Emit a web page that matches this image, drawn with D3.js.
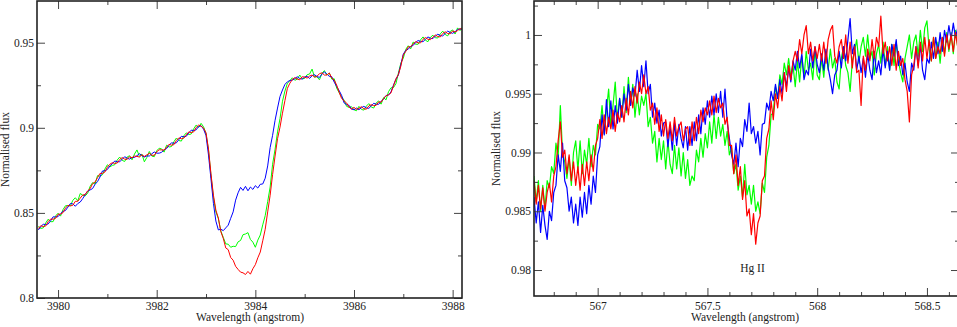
<!DOCTYPE html>
<html>
<head>
<meta charset="utf-8">
<script src="https://cdn.jsdelivr.net/npm/d3@7"></script>
<style>
  body { margin: 0; background: #fff; }
  svg { display: block; }
  text, .tick text { font-family: "Liberation Serif", "DejaVu Serif", serif; font-size: 11.5px; fill: #222; }
  .tick line { stroke: #444; }
</style>
</head>
<body>
<script>
// Left panel wavelengths (angstrom)
const leftWave = [
  3979.6,3979.65,3979.7,3979.75,3979.8,3979.85,3979.9,3979.95,3980,3980.05,
  3980.1,3980.15,3980.2,3980.25,3980.3,3980.35,3980.4,3980.45,3980.5,3980.55,
  3980.6,3980.65,3980.7,3980.75,3980.8,3980.85,3980.9,3980.95,3981,3981.05,
  3981.1,3981.15,3981.2,3981.25,3981.3,3981.35,3981.4,3981.45,3981.5,3981.55,
  3981.6,3981.65,3981.7,3981.75,3981.8,3981.85,3981.9,3981.95,3982,3982.05,
  3982.1,3982.15,3982.2,3982.25,3982.3,3982.35,3982.4,3982.45,3982.5,3982.55,
  3982.6,3982.65,3982.7,3982.75,3982.8,3982.85,3982.9,3982.95,3983,3983.05,
  3983.1,3983.15,3983.2,3983.25,3983.3,3983.35,3983.4,3983.45,3983.5,3983.55,
  3983.6,3983.65,3983.7,3983.75,3983.8,3983.85,3983.9,3983.95,3984,3984.05,
  3984.1,3984.15,3984.2,3984.25,3984.3,3984.35,3984.4,3984.45,3984.5,3984.55,
  3984.6,3984.65,3984.7,3984.75,3984.8,3984.85,3984.9,3984.95,3985,3985.05,
  3985.1,3985.15,3985.2,3985.25,3985.3,3985.35,3985.4,3985.45,3985.5,3985.55,
  3985.6,3985.65,3985.7,3985.75,3985.8,3985.85,3985.9,3985.95,3986,3986.05,
  3986.1,3986.15,3986.2,3986.25,3986.3,3986.35,3986.4,3986.45,3986.5,3986.55,
  3986.6,3986.65,3986.7,3986.75,3986.8,3986.85,3986.9,3986.95,3987,3987.05,
  3987.1,3987.15,3987.2,3987.25,3987.3,3987.35,3987.4,3987.45,3987.5,3987.55,
  3987.6,3987.65,3987.7,3987.75,3987.8,3987.85,3987.9,3987.95,3988,3988.05,
  3988.1,3988.15,3988.2
];
const leftBlue = [
  0.8400,0.8419,0.8434,0.8431,0.8435,0.8454,0.8477,0.8476,0.8478,0.8495,
  0.8509,0.8514,0.8534,0.8555,0.8553,0.8539,0.8555,0.8564,0.8584,0.8607,
  0.8628,0.8635,0.8643,0.8668,0.8684,0.8711,0.8746,0.8748,0.8755,0.8776,
  0.8789,0.8805,0.8801,0.8800,0.8815,0.8830,0.8822,0.8816,0.8826,0.8826,
  0.8836,0.8848,0.8837,0.8828,0.8835,0.8834,0.8847,0.8858,0.8851,0.8851,
  0.8856,0.8871,0.8878,0.8897,0.8912,0.8909,0.8912,0.8931,0.8950,0.8947,
  0.8950,0.8970,0.8986,0.8984,0.8988,0.9008,0.9012,0.8992,0.8955,0.8840,
  0.8700,0.8556,0.8452,0.8400,0.8404,0.8396,0.8412,0.8428,0.8468,0.8506,
  0.8575,0.8618,0.8650,0.8632,0.8656,0.8630,0.8652,0.8638,0.8660,0.8646,
  0.8668,0.8670,0.8704,0.8776,0.8884,0.8956,0.9044,0.9116,0.9184,0.9222,
  0.9255,0.9270,0.9278,0.9280,0.9289,0.9300,0.9290,0.9286,0.9298,0.9302,
  0.9290,0.9306,0.9312,0.9301,0.9296,0.9315,0.9328,0.9316,0.9302,0.9300,
  0.9268,0.9242,0.9218,0.9190,0.9146,0.9136,0.9132,0.9110,0.9106,0.9116,
  0.9106,0.9118,0.9126,0.9117,0.9114,0.9128,0.9144,0.9138,0.9138,0.9155,
  0.9170,0.9190,0.9192,0.9211,0.9250,0.9285,0.9311,0.9372,0.9433,0.9455,
  0.9462,0.9478,0.9484,0.9501,0.9513,0.9507,0.9506,0.9520,0.9534,0.9526,
  0.9524,0.9539,0.9550,0.9542,0.9540,0.9554,0.9568,0.9560,0.9555,0.9565,
  0.9577,0.9581,0.9578
];
const leftGreen = [
  0.8420,0.8409,0.8412,0.8441,0.8463,0.8448,0.8449,0.8482,0.8498,0.8481,
  0.8519,0.8542,0.8543,0.8542,0.8574,0.8589,0.8571,0.8614,0.8604,0.8600,
  0.8615,0.8656,0.8678,0.8669,0.8719,0.8716,0.8724,0.8758,0.8783,0.8770,
  0.8779,0.8783,0.8811,0.8828,0.8809,0.8802,0.8828,0.8836,0.8812,0.8846,
  0.8870,0.8832,0.8846,0.8800,0.8826,0.8861,0.8834,0.8830,0.8865,0.8880,
  0.8876,0.8857,0.8898,0.8887,0.8890,0.8919,0.8940,0.8925,0.8922,0.8953,
  0.8970,0.8960,0.8964,0.8994,0.9016,0.9002,0.9026,0.9006,0.8965,0.8870,
  0.8720,0.8592,0.8506,0.8466,0.8394,0.8356,0.8318,0.8316,0.8298,0.8304,
  0.8302,0.8330,0.8338,0.8372,0.8376,0.8384,0.8344,0.8328,0.8298,0.8340,
  0.8370,0.8430,0.8484,0.8566,0.8652,0.8786,0.8874,0.8976,0.9054,0.9156,
  0.9216,0.9262,0.9276,0.9294,0.9279,0.9286,0.9310,0.9288,0.9290,0.9312,
  0.9316,0.9345,0.9298,0.9300,0.9282,0.9320,0.9336,0.9310,0.9322,0.9286,
  0.9288,0.9232,0.9206,0.9182,0.9162,0.9126,0.9120,0.9124,0.9106,0.9100,
  0.9126,0.9108,0.9104,0.9127,0.9142,0.9122,0.9116,0.9146,0.9158,0.9139,
  0.9178,0.9164,0.9212,0.9235,0.9236,0.9259,0.9321,0.9380,0.9409,0.9461,
  0.9482,0.9464,0.9504,0.9491,0.9491,0.9517,0.9534,0.9514,0.9506,0.9532,
  0.9544,0.9529,0.9528,0.9552,0.9568,0.9548,0.9540,0.9566,0.9575,0.9551,
  0.9587,0.9571,0.9592
];
const leftRed = [
  0.8408,0.8425,0.8420,0.8423,0.8449,0.8464,0.8463,0.8468,0.8492,0.8493,
  0.8501,0.8528,0.8544,0.8541,0.8545,0.8568,0.8568,0.8587,0.8605,0.8608,
  0.8629,0.8642,0.8672,0.8681,0.8707,0.8732,0.8732,0.8740,0.8769,0.8786,
  0.8795,0.8791,0.8793,0.8814,0.8825,0.8816,0.8814,0.8830,0.8824,0.8834,
  0.8832,0.8828,0.8841,0.8832,0.8841,0.8850,0.8839,0.8838,0.8859,0.8871,
  0.8870,0.8869,0.8886,0.8903,0.8898,0.8901,0.8926,0.8941,0.8936,0.8939,
  0.8958,0.8976,0.8972,0.8976,0.9002,0.9016,0.9010,0.8998,0.8970,0.8875,
  0.8730,0.8604,0.8516,0.8470,0.8390,0.8350,0.8294,0.8284,0.8238,0.8222,
  0.8186,0.8168,0.8152,0.8148,0.8138,0.8156,0.8140,0.8172,0.8196,0.8236,
  0.8270,0.8336,0.8404,0.8506,0.8604,0.8726,0.8834,0.8936,0.9004,0.9086,
  0.9160,0.9232,0.9262,0.9284,0.9295,0.9286,0.9282,0.9300,0.9298,0.9292,
  0.9304,0.9310,0.9298,0.9303,0.9318,0.9323,0.9310,0.9310,0.9322,0.9292,
  0.9280,0.9250,0.9208,0.9172,0.9158,0.9146,0.9122,0.9110,0.9120,0.9108,
  0.9114,0.9124,0.9112,0.9109,0.9128,0.9136,0.9130,0.9132,0.9152,0.9151,
  0.9172,0.9188,0.9194,0.9205,0.9246,0.9287,0.9313,0.9362,0.9429,0.9449,
  0.9476,0.9476,0.9492,0.9507,0.9499,0.9499,0.9520,0.9530,0.9520,0.9518,
  0.9532,0.9545,0.9536,0.9534,0.9554,0.9564,0.9554,0.9552,0.9569,0.9563,
  0.9571,0.9583,0.9577
];

// Right panel wavelengths, as labelled on the axis
const rightWave = [
  566.71,566.72,566.73,566.74,566.75,566.76,566.77,566.78,566.79,566.8,
  566.81,566.82,566.83,566.84,566.85,566.86,566.87,566.88,566.89,566.9,
  566.91,566.92,566.93,566.94,566.95,566.96,566.97,566.98,566.99,567,
  567.01,567.02,567.03,567.04,567.05,567.06,567.07,567.08,567.09,567.1,
  567.11,567.12,567.13,567.14,567.15,567.16,567.17,567.18,567.19,567.2,
  567.21,567.22,567.23,567.24,567.25,567.26,567.27,567.28,567.29,567.3,
  567.31,567.32,567.33,567.34,567.35,567.36,567.37,567.38,567.39,567.4,
  567.41,567.42,567.43,567.44,567.45,567.46,567.47,567.48,567.49,567.5,
  567.51,567.52,567.53,567.54,567.55,567.56,567.57,567.58,567.59,567.6,
  567.61,567.62,567.63,567.64,567.65,567.66,567.67,567.68,567.69,567.7,
  567.71,567.72,567.73,567.74,567.75,567.76,567.77,567.78,567.79,567.8,
  567.81,567.82,567.83,567.84,567.85,567.86,567.87,567.88,567.89,567.9,
  567.91,567.92,567.93,567.94,567.95,567.96,567.97,567.98,567.99,568,
  568.01,568.02,568.03,568.04,568.05,568.06,568.07,568.08,568.09,568.1,
  568.11,568.12,568.13,568.14,568.15,568.16,568.17,568.18,568.19,568.2,
  568.21,568.22,568.23,568.24,568.25,568.26,568.27,568.28,568.29,568.3,
  568.31,568.32,568.33,568.34,568.35,568.36,568.37,568.38,568.39,568.4,
  568.41,568.42,568.43,568.44,568.45,568.46,568.47,568.48,568.49,568.5,
  568.51,568.52,568.53,568.54,568.55,568.56,568.57,568.58,568.59,568.6,
  568.61,568.62,568.63,568.64
];
const rightBlue = [
  0.9862,0.9840,0.9858,0.9832,0.9855,0.9838,0.9826,0.9850,0.9842,0.9866,
  0.9872,0.9898,0.9884,0.9908,0.9876,0.9870,0.9850,0.9862,0.9840,0.9856,
  0.9838,0.9862,0.9845,0.9866,0.9848,0.9872,0.9856,0.9880,0.9866,0.9898,
  0.9905,0.9932,0.9915,0.9945,0.9922,0.9944,0.9920,0.9940,0.9925,0.9946,
  0.9930,0.9950,0.9936,0.9958,0.9940,0.9955,0.9948,0.9970,0.9952,0.9974,
  0.9956,0.9978,0.9950,0.9958,0.9930,0.9942,0.9925,0.9936,0.9914,0.9925,
  0.9926,0.9905,0.9922,0.9902,0.9925,0.9906,0.9924,0.9912,0.9904,0.9922,
  0.9902,0.9922,0.9906,0.9926,0.9910,0.9932,0.9916,0.9938,0.9924,0.9944,
  0.9930,0.9948,0.9932,0.9950,0.9934,0.9952,0.9930,0.9954,0.9926,0.9912,
  0.9898,0.9890,0.9908,0.9888,0.9912,0.9905,0.9928,0.9918,0.9942,0.9916,
  0.9922,0.9908,0.9918,0.9898,0.9924,0.9925,0.9942,0.9936,0.9952,0.9944,
  0.9958,0.9946,0.9962,0.9950,0.9968,0.9956,0.9972,0.9960,0.9978,0.9970,
  0.9986,0.9972,0.9984,0.9962,0.9970,0.9966,0.9988,0.9972,0.9990,0.9975,
  0.9968,0.9984,0.9970,0.9988,0.9972,0.9962,0.9950,0.9966,0.9970,0.9986,
  0.9972,0.9990,0.9978,0.9996,1.0014,0.9984,0.9992,0.9970,0.9982,0.9968,
  0.9980,0.9964,0.9984,0.9970,0.9962,0.9986,0.9968,0.9978,0.9966,0.9988,
  0.9972,0.9986,0.9970,0.9992,0.9982,0.9996,0.9974,0.9982,0.9966,0.9976,
  0.9960,0.9952,0.9976,0.9970,0.9990,0.9974,0.9992,0.9970,0.9962,0.9980,
  0.9976,0.9994,0.9980,0.9998,0.9984,1.0002,0.9986,1.0004,0.9994,1.0008,
  0.9996,1.0010,0.9998,1.0006
];
const rightGreen = [
  0.9880,0.9858,0.9876,0.9850,0.9872,0.9852,0.9876,0.9870,0.9888,0.9882,
  0.9908,0.9896,0.9940,0.9900,0.9892,0.9878,0.9896,0.9872,0.9900,0.9910,
  0.9885,0.9910,0.9882,0.9902,0.9890,0.9912,0.9888,0.9906,0.9898,0.9924,
  0.9920,0.9940,0.9916,0.9936,0.9954,0.9922,0.9940,0.9960,0.9928,0.9946,
  0.9930,0.9956,0.9934,0.9964,0.9940,0.9958,0.9930,0.9950,0.9932,0.9948,
  0.9940,0.9950,0.9922,0.9930,0.9908,0.9918,0.9892,0.9912,0.9894,0.9910,
  0.9886,0.9910,0.9890,0.9882,0.9906,0.9886,0.9904,0.9880,0.9900,0.9878,
  0.9894,0.9872,0.9880,0.9876,0.9902,0.9892,0.9912,0.9896,0.9916,0.9904,
  0.9926,0.9908,0.9932,0.9912,0.9930,0.9914,0.9924,0.9906,0.9918,0.9898,
  0.9904,0.9882,0.9890,0.9868,0.9880,0.9862,0.9890,0.9864,0.9872,0.9856,
  0.9872,0.9850,0.9858,0.9848,0.9874,0.9866,0.9896,0.9906,0.9932,0.9934,
  0.9956,0.9946,0.9966,0.9958,0.9976,0.9966,0.9980,0.9964,0.9974,0.9956,
  0.9978,0.9960,0.9982,0.9964,0.9986,0.9970,0.9976,0.9962,0.9988,0.9966,
  0.9962,0.9980,0.9964,0.9986,0.9970,0.9988,0.9972,0.9980,0.9960,0.9954,
  0.9980,0.9990,0.9974,0.9968,0.9952,0.9978,0.9986,0.9996,0.9976,0.9990,
  0.9998,0.9982,1.0000,0.9980,0.9986,0.9966,0.9984,0.9992,0.9976,0.9994,
  0.9974,0.9990,0.9970,0.9992,0.9974,0.9994,0.9978,0.9968,0.9960,0.9980,
  0.9990,1.0000,0.9980,0.9994,1.0000,0.9982,1.0004,0.9986,1.0006,1.0012,
  0.9988,0.9978,0.9998,0.9980,0.9994,0.9976,0.9998,0.9984,1.0002,0.9986,
  1.0002,0.9984,1.0004,0.9990
];
const rightRed = [
  0.9876,0.9856,0.9872,0.9852,0.9870,0.9850,0.9866,0.9874,0.9858,0.9880,
  0.9888,0.9910,0.9926,0.9896,0.9902,0.9882,0.9898,0.9876,0.9892,0.9872,
  0.9888,0.9868,0.9890,0.9872,0.9892,0.9876,0.9898,0.9884,0.9906,0.9912,
  0.9928,0.9912,0.9932,0.9916,0.9930,0.9920,0.9936,0.9918,0.9934,0.9926,
  0.9940,0.9926,0.9946,0.9932,0.9952,0.9938,0.9956,0.9942,0.9960,0.9950,
  0.9966,0.9950,0.9956,0.9936,0.9942,0.9924,0.9938,0.9918,0.9932,0.9914,
  0.9928,0.9912,0.9926,0.9910,0.9930,0.9914,0.9922,0.9926,0.9910,0.9920,
  0.9922,0.9906,0.9926,0.9910,0.9930,0.9916,0.9936,0.9926,0.9938,0.9932,
  0.9944,0.9932,0.9948,0.9934,0.9946,0.9938,0.9942,0.9924,0.9930,0.9906,
  0.9906,0.9882,0.9898,0.9872,0.9888,0.9860,0.9876,0.9846,0.9852,0.9830,
  0.9848,0.9822,0.9840,0.9846,0.9876,0.9880,0.9912,0.9920,0.9944,0.9928,
  0.9950,0.9938,0.9956,0.9944,0.9968,0.9952,0.9974,0.9962,0.9978,0.9986,
  0.9978,0.9996,0.9984,1.0000,1.0008,0.9984,0.9994,0.9978,0.9990,0.9980,
  0.9992,0.9978,0.9994,0.9976,0.9996,1.0004,1.0008,0.9982,0.9976,0.9990,
  0.9996,0.9980,1.0000,0.9976,0.9994,0.9972,0.9990,0.9968,0.9970,0.9940,
  0.9982,0.9970,0.9988,0.9978,0.9996,0.9980,0.9998,0.9990,1.0016,0.9984,
  0.9994,0.9978,0.9990,0.9974,0.9992,0.9970,0.9986,0.9974,0.9980,0.9962,
  0.9952,0.9926,0.9966,0.9974,0.9990,0.9972,0.9994,0.9978,0.9998,0.9980,
  0.9996,0.9978,0.9998,0.9980,0.9990,0.9984,0.9998,0.9982,1.0000,0.9988,
  1.0000,0.9986,1.0002,0.9990
];

// tick values
const leftXTicks = [3980, 3982, 3984, 3986, 3988];
const leftXMinor = [3981, 3983, 3985, 3987];
const leftYTicks = [0.8, 0.85, 0.9, 0.95];
const leftYMinor = [0.825, 0.875, 0.925];
const rightXTicks = [567, 567.5, 568, 568.5];
const rightXMinor = [566.8, 566.9, 567.1, 567.2, 567.3, 567.4, 567.6, 567.7, 567.8, 567.9, 568.1, 568.2, 568.3, 568.4, 568.6];
const rightYTicks = [0.98, 0.985, 0.99, 0.995, 1];
const rightYMinor = [0.9825, 0.9875, 0.9925, 0.9975, 1.0025];

const width = 957, height = 327;

const svg = d3.select('body').append('svg')
    .attr('width', width)
    .attr('height', height);

function drawPanel(p) {
    const x = d3.scaleLinear().domain(p.xDomain).range([p.left, p.right]);
    const y = d3.scaleLinear().domain(p.yDomain).range([p.bottom, p.top]);
    const g = svg.append('g');

    g.append('clipPath').attr('id', p.id)
        .append('rect')
        .attr('x', p.left).attr('y', p.top)
        .attr('width', p.right - p.left).attr('height', p.bottom - p.top);

    const line = d3.line()
        .x((d, i) => x(p.wave[i]))
        .y(d => y(d));

    p.series.forEach(s => {
        g.append('path')
            .datum(s.values)
            .attr('d', line)
            .attr('fill', 'none')
            .attr('stroke', s.color)
            .attr('stroke-width', p.lineWidth)
            .attr('stroke-linejoin', 'round')
            .attr('clip-path', `url(#${p.id})`);
    });

    // ticks point inwards on all four sides
    function axis(fn, scale, ticks, size, labels, pad, transform) {
        g.append('g')
            .attr('transform', transform)
            .call(fn(scale).tickValues(ticks).tickSize(-size).tickPadding(pad)
                .tickFormat(labels ? d => String(d) : ''))
            .call(a => a.select('.domain').remove())
            .attr('font-family', null)
            .attr('font-size', null);
    }
    axis(d3.axisBottom, x, p.xTicks, 8, true, p.xPad, `translate(0,${p.bottom})`);
    axis(d3.axisBottom, x, p.xMinor, 4, false, 0, `translate(0,${p.bottom})`);
    axis(d3.axisTop, x, p.xTicks, 8, false, 0, `translate(0,${p.top})`);
    axis(d3.axisTop, x, p.xMinor, 4, false, 0, `translate(0,${p.top})`);
    axis(d3.axisLeft, y, p.yTicks, 8, true, 3, `translate(${p.left},0)`);
    axis(d3.axisLeft, y, p.yMinor, 4, false, 0, `translate(${p.left},0)`);
    axis(d3.axisRight, y, p.yTicks, 8, false, 0, `translate(${p.right},0)`);
    axis(d3.axisRight, y, p.yMinor, 4, false, 0, `translate(${p.right},0)`);

    // frame
    g.append('rect')
        .attr('x', p.left).attr('y', p.top)
        .attr('width', p.right - p.left).attr('height', p.bottom - p.top)
        .attr('fill', 'none')
        .attr('stroke', '#222')
        .attr('stroke-width', 1.6);

    g.append('text')
        .attr('x', p.titleX).attr('y', 321)
        .attr('text-anchor', 'middle')
        .text('Wavelength (angstrom)');

    g.append('text')
        .attr('transform', `translate(${p.yTitleX},${(p.top + p.bottom) / 2}) rotate(-90)`)
        .attr('text-anchor', 'middle')
        .text('Normalised flux');

    return { x, y, g };
}

drawPanel({
    id: 'clipLeft',
    left: 37, right: 462, top: 1, bottom: 298,
    xDomain: [3979.573, 3988.19], yDomain: [0.8, 0.9745],
    xTicks: leftXTicks, xMinor: leftXMinor, yTicks: leftYTicks, yMinor: leftYMinor,
    xPad: 4, titleX: 250, yTitleX: 9, lineWidth: 1,
    wave: leftWave,
    series: [
        { values: leftGreen, color: '#00ff00' },
        { values: leftBlue, color: '#0000ff' },
        { values: leftRed, color: '#ff0000' }
    ]
});

const right = drawPanel({
    id: 'clipRight',
    left: 534, right: 959, top: 1, bottom: 296,
    xDomain: [566.71, 568.646], yDomain: [0.97779, 1.00289],
    xTicks: rightXTicks, xMinor: rightXMinor, yTicks: rightYTicks, yMinor: rightYMinor,
    xPad: 6, titleX: 745, yTitleX: 500, lineWidth: 1.2,
    wave: rightWave,
    series: [
        { values: rightGreen, color: '#00ff00' },
        { values: rightBlue, color: '#0000ff' },
        { values: rightRed, color: '#ff0000' }
    ]
});

// line identification
right.g.append('text')
    .attr('x', right.x(567.705)).attr('y', 272)
    .attr('text-anchor', 'middle')
    .text('Hg II');
</script>
</body>
</html>
